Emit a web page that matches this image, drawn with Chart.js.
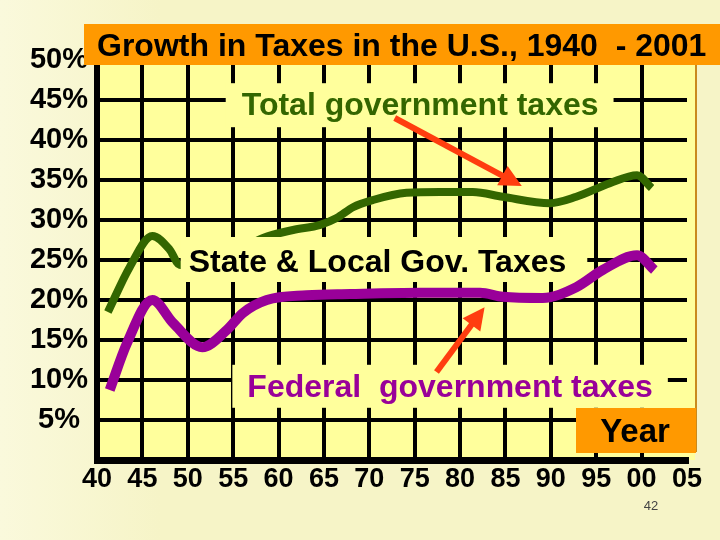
<!DOCTYPE html>
<html>
<head>
<meta charset="utf-8">
<title>Growth in Taxes in the U.S., 1940 - 2001</title>
<script src="https://cdn.jsdelivr.net/npm/chart.js@4.4.1/dist/chart.umd.min.js"></script>
<style>
  html, body { margin: 0; padding: 0; background: #F7F5CA; }
  #chart { display: block; }
</style>
</head>
<body>
<canvas id="chart" width="720" height="540"></canvas>
<script>
// --- values (year, % of GDP) ---
const totalYears = [1941.2, 1943.6, 1946.1, 1948.0, 1949.1, 1952.0, 1955.0, 1958.3, 1961.6, 1964.6, 1966.4,
                    1968.2, 1970.4, 1974.1, 1977.8, 1981.4, 1984.7, 1989.9, 1992.8, 1996.5, 1999.5, 2001.1];
const totalTaxes = [18.5, 24.1, 28.0, 26.3, 24.4, 24.2, 25.8, 27.75, 28.75, 29.4, 30.25,
                    31.6, 32.5, 33.4, 33.5, 33.5, 32.9, 32.1, 32.9, 34.6, 35.6, 34.0];

const federalYears = [1941.4, 1943.3, 1946.1, 1948.4, 1951.6, 1954.3, 1956.1, 1958.7, 1963.1,
                      1967.9, 1975.6, 1982.2, 1984.7, 1989.1, 1992.8, 1995.7, 1999.5, 2001.4];
const federalTaxes = [8.75, 14.6, 20.0, 17.1, 14.1, 16.25, 18.4, 20.0, 20.6,
                      20.75, 20.9, 20.9, 20.4, 20.25, 21.6, 23.75, 25.6, 23.75];

const xTickLabels = ['40', '45', '50', '55', '60', '65', '70', '75', '80', '85', '90', '95', '00', '05'];
const yTickLabels = ['', '5%', '10%', '15%', '20%', '25%', '30%', '35%', '40%', '45%', '50%'];

const titleText = 'Growth in Taxes in the U.S., 1940  - 2001';
const yearText = 'Year';
const pageNumber = '42';

const FONT = '"Liberation Sans", Arial, sans-serif';
const PLOT_BG = '#FFFF9C';
const ORANGE = '#FF9900';
const GREEN = '#336600';
const PURPLE = '#990099';
const ARROW = '#FF3D0F';

// label boxes sit on top of grid and the green line, anchored in data units
const notes = [
  { text: 'Total government taxes', color: GREEN, x: 1975.6, y: 43.1, pad: [16, 15, 32, 12] },
  { text: 'State & Local Gov. Taxes', color: '#000', x: 1970.9, y: 23.5, pad: [8, 21, 35, 10] },
  { text: 'Federal  government taxes', color: PURPLE, x: 1978.9, y: 7.9, pad: [15, 15, 32, 11] }
];
const arrows = [
  { from: [1972.8, 42.75], to: [1986.8, 34.25] },
  { from: [1977.4, 11.0], to: [1982.7, 19.1] }
];

function drawArrow(ctx, x1, y1, x2, y2) {
  let dx = x2 - x1, dy = y2 - y1;
  let len = Math.hypot(dx, dy);
  let ux = dx / len, uy = dy / len;
  let hl = 22, hw = 11;
  let bx = x2 - ux * hl, by = y2 - uy * hl;
  ctx.strokeStyle = ARROW;
  ctx.fillStyle = ARROW;
  ctx.lineWidth = 6;
  ctx.beginPath();
  ctx.moveTo(x1, y1);
  ctx.lineTo(bx + ux * 2, by + uy * 2);
  ctx.stroke();
  ctx.beginPath();
  ctx.moveTo(x2, y2);
  ctx.lineTo(bx - uy * hw, by + ux * hw);
  ctx.lineTo(bx + uy * hw, by - ux * hw);
  ctx.closePath();
  ctx.fill();
}

const slidePlugin = {
  id: 'slide',
  beforeDraw(chart) {
    const { ctx, chartArea: a } = chart;
    ctx.save();
    let g = ctx.createLinearGradient(0, 0, 160, 0);
    g.addColorStop(0, '#FAF9DC');
    g.addColorStop(1, '#F6F4C7');
    ctx.fillStyle = g;
    ctx.fillRect(0, 0, chart.width, chart.height);
    ctx.fillStyle = PLOT_BG;
    ctx.fillRect(a.left, a.top, a.right + 8 - a.left, a.bottom - a.top);
    ctx.strokeStyle = '#C98A1E';
    ctx.lineWidth = 2;
    ctx.beginPath();
    ctx.moveTo(a.right + 9, a.top);
    ctx.lineTo(a.right + 9, a.bottom - 8);
    ctx.stroke();
    ctx.restore();
  },
  // green (dataset 0) is drawn first; the text boxes go over it, purple over them
  afterDatasetDraw(chart, args) {
    if (args.index !== 0) return;
    const { ctx, scales } = chart;
    const xs = scales.x, ys = scales.y;
    ctx.save();
    ctx.font = 'bold 32px ' + FONT;
    ctx.textAlign = 'center';
    ctx.textBaseline = 'alphabetic';
    notes.forEach(n => {
      let cx = xs.getPixelForValue(n.x);
      let by = ys.getPixelForValue(n.y);
      let w = ctx.measureText(n.text).width;
      ctx.fillStyle = PLOT_BG;
      ctx.fillRect(cx - w / 2 - n.pad[0], by - n.pad[2], w + n.pad[0] + n.pad[1], n.pad[2] + n.pad[3]);
      ctx.fillStyle = n.color;
      ctx.fillText(n.text, cx, by);
    });
    ctx.restore();
  },
  afterDatasetsDraw(chart) {
    const { ctx, scales } = chart;
    const xs = scales.x, ys = scales.y;
    ctx.save();

    arrows.forEach(ar => {
      drawArrow(ctx,
        xs.getPixelForValue(ar.from[0]), ys.getPixelForValue(ar.from[1]),
        xs.getPixelForValue(ar.to[0]), ys.getPixelForValue(ar.to[1]));
    });

    // title bar
    ctx.fillStyle = ORANGE;
    ctx.fillRect(84, 24, chart.width - 84, 41);
    ctx.fillStyle = '#000';
    ctx.textAlign = 'left';
    ctx.font = 'bold 32px ' + FONT;
    ctx.fillText(titleText, 97, 56);

    // "Year" box
    ctx.fillStyle = ORANGE;
    ctx.fillRect(576, 408, 120, 45);
    ctx.fillStyle = '#000';
    ctx.textAlign = 'center';
    ctx.font = 'bold 33px ' + FONT;
    ctx.fillText(yearText, 635, 442);

    // slide number
    ctx.fillStyle = '#444';
    ctx.font = '13px ' + FONT;
    ctx.fillText(pageNumber, 651, 510);
    ctx.restore();
  }
};

new Chart(document.getElementById('chart'), {
  type: 'line',
  data: {
    datasets: [
      {
        label: 'Total government taxes',
        data: totalYears.map((x, i) => ({ x: x, y: totalTaxes[i] })),
        borderColor: GREEN,
        borderWidth: 8,
        borderCapStyle: 'butt',
        pointRadius: 0,
        cubicInterpolationMode: 'monotone',
        fill: false,
        order: 1
      },
      {
        label: 'Federal government taxes',
        data: federalYears.map((x, i) => ({ x: x, y: federalTaxes[i] })),
        borderColor: PURPLE,
        borderWidth: 10,
        borderCapStyle: 'butt',
        pointRadius: 0,
        cubicInterpolationMode: 'monotone',
        fill: false,
        order: 0
      }
    ]
  },
  options: {
    responsive: false,
    animation: false,
    layout: { padding: { left: 10, top: 60, right: 33, bottom: 0 } },
    plugins: {
      legend: { display: false },
      tooltip: { enabled: false },
      title: { display: false }
    },
    scales: {
      x: {
        type: 'linear',
        min: 1940,
        max: 2005,
        afterBuildTicks: s => { s.ticks = xTickLabels.map((_, i) => ({ value: 1940 + 5 * i })); },
        afterFit: s => { s.height = 80; },
        ticks: {
          autoSkip: false,
          maxRotation: 0,
          padding: 3,
          color: '#000',
          font: { family: FONT, size: 27, weight: 'bold' },
          callback: (v, i) => xTickLabels[i]
        },
        grid: {
          drawTicks: false,
          lineWidth: 4,
          color: c => (c.tick && (c.tick.value === 1940 || c.tick.value === 2005)) ? 'rgba(0,0,0,0)' : '#000'
        },
        border: { display: true, color: '#000', width: 7 }
      },
      y: {
        min: 0,
        max: 50,
        afterFit: s => { s.width = 87; },
        ticks: {
          stepSize: 5,
          padding: 9,
          crossAlign: 'center',
          color: '#000',
          font: { family: FONT, size: 29, weight: 'bold' },
          callback: (v, i) => yTickLabels[i]
        },
        grid: {
          drawTicks: false,
          lineWidth: 4,
          color: c => (c.tick && (c.tick.value === 0 || c.tick.value === 50)) ? 'rgba(0,0,0,0)' : '#000'
        },
        border: { display: true, color: '#000', width: 6 }
      }
    }
  },
  plugins: [slidePlugin]
});
</script>
</body>
</html>
